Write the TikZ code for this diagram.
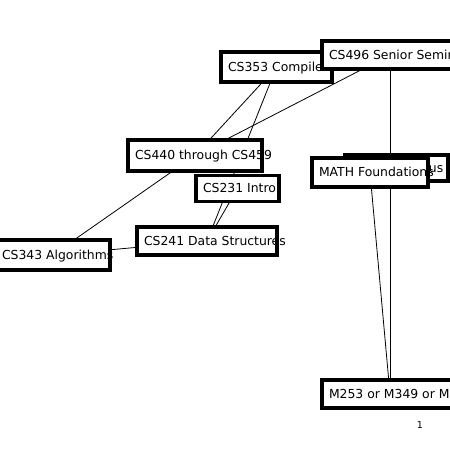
\documentclass[tikz,border=0pt]{standalone}
\usepackage{fontspec}
\setmainfont{DejaVu Sans}
\pgfdeclarelayer{bg}
\pgfsetlayers{bg,main}
\begin{document}
\begin{tikzpicture}[x=1pt,y=-1pt,
  course/.style={draw=black, line width=3.2pt, fill=white, inner xsep=7pt, inner ysep=0pt,
    text height=9.2pt, text depth=0.6pt, font=\fontsize{12.4}{14}\selectfont},
  link/.style={draw=black, line width=0.8pt},
  pagenum/.style={font=\fontsize{9.5}{10}\selectfont, inner sep=0pt}]
\useasboundingbox (0,0) rectangle (450,450);
\node[course, minimum height=30pt] (cs353) at (276.5,67) {\makebox[97pt][l]{CS353 Compilers}};
\node[course, minimum height=28pt] (cs496) at (390,55) {\makebox[122pt][l]{CS496 Senior Seminar}};
\node[course, minimum height=31pt] (cs440) at (195,155.5) {\makebox[120pt][l]{CS440 through CS459}};
\node[course, minimum height=26pt] (cs231) at (237.5,188.5) {\makebox[69pt][l]{CS231 Intro}};
\node[course, minimum height=26pt] (calc) at (396.5,168) {\makebox[89pt][l]{MATH Calculus I}};
\node[course, minimum height=29pt] (math) at (370,172.5) {\makebox[102pt][l]{MATH Foundations}};
\node[course, minimum height=30pt] (cs343) at (52.5,255) {\makebox[101pt][l]{CS343 Algorithms}};
\node[course, minimum height=28pt] (cs241) at (207,241) {\makebox[126pt][l]{CS241 Data Structures}};
\node[course, minimum height=28pt] (m253) at (390,394) {\makebox[122pt][l]{M253 or M349 or M}};
\node[pagenum] (pg) at (420,425) {1};
\begin{pgfonlayer}{bg}
\fill[white] (0,0) rectangle (450,450);
\draw[link] (cs353.center) -- (cs440.center);
\draw[link] (cs353.center) -- (cs241.center);
\draw[link] (cs496.center) -- (cs440.center);
\draw[link] (cs496.center) -- (m253.center);
\draw[link] (cs231.center) -- (cs241.center);
\draw[link] (cs440.center) -- (cs343.center);
\draw[link] (cs241.center) -- (cs343.center);
\draw[link] (math.center) -- (m253.center);
\end{pgfonlayer}
\end{tikzpicture}
\end{document}
